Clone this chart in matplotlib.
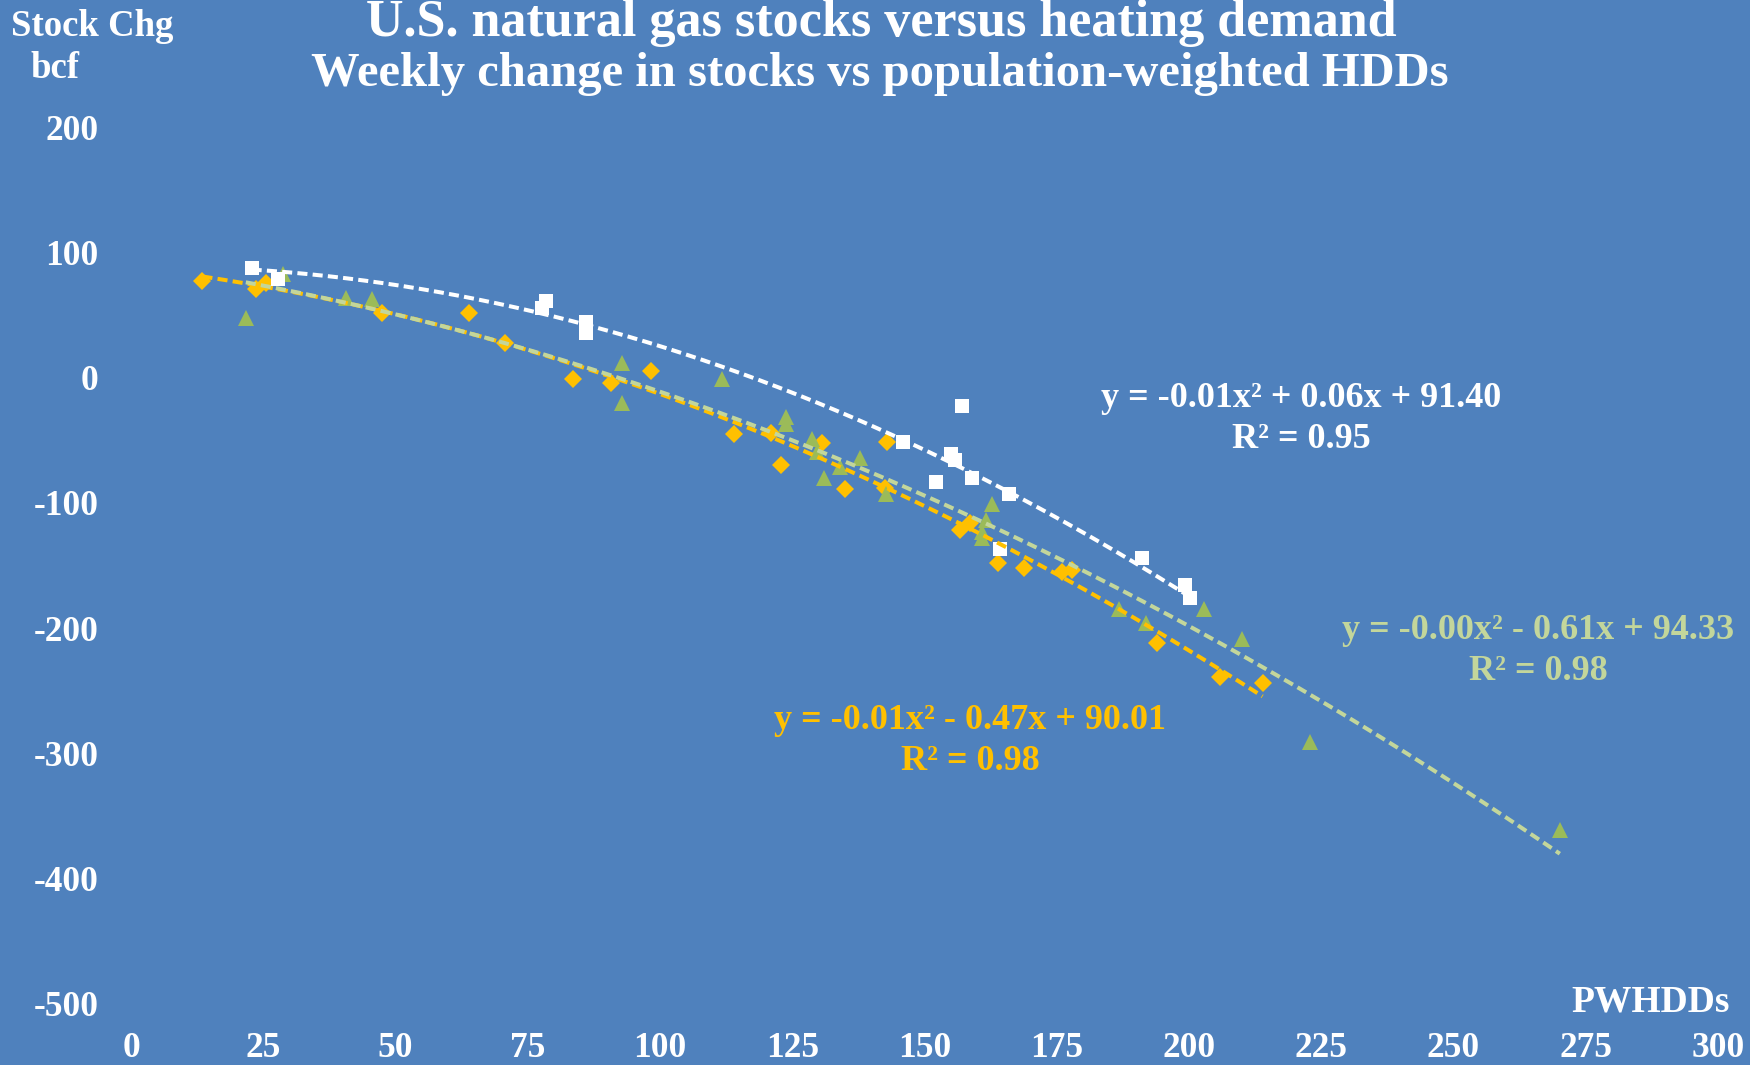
import numpy as np
import matplotlib
matplotlib.use("Agg")
import matplotlib.pyplot as plt

# ---------------- data ----------------
white_x = [22.8, 27.7, 78.4, 77.6, 86.0, 86.0, 146.0, 157.0, 155.1, 155.8,
           152.1, 158.9, 166.0, 164.3, 191.1, 199.2, 200.2]
white_y = [87.2, 78.5, 61.4, 55.3, 44.1, 35.8, -51.6, -22.7, -61.0, -65.8,
           -83.6, -80.4, -92.9, -136.8, -144.3, -165.5, -176.2]

orange_x = [13.5, 23.6, 25.6, 47.5, 63.8, 70.7, 83.6, 90.7, 98.3, 113.9,
            120.9, 122.8, 130.7, 135.0, 142.9, 142.6, 156.7, 158.6, 163.9,
            168.9, 175.9, 177.8, 193.9, 205.9, 213.9]
orange_y = [77.1, 70.7, 75.7, 51.3, 51.3, 27.4, -1.1, -4.6, 5.5, -45.3,
            -44.5, -69.8, -52.5, -89.2, -51.1, -88.4, -121.6, -116.3, -148.2,
            -152.2, -154.9, -153.6, -211.6, -238.7, -244.0]

green_x = [21.7, 28.7, 40.6, 45.5, 92.8, 92.8, 111.7, 123.8, 123.8, 128.7,
           129.6, 131.0, 134.0, 137.8, 142.7, 162.7, 161.7, 160.8, 160.8,
           186.8, 191.8, 202.8, 210.0, 222.9, 270.1]
green_y = [47.3, 83.0, 63.3, 62.7, 11.4, -20.0, -1.1, -31.2, -37.0, -49.3,
           -59.1, -80.4, -71.1, -64.4, -93.0, -101.1, -113.7, -123.0, -128.3,
           -185.0, -196.1, -185.0, -208.9, -290.6, -361.0]

eq_white = "y = -0.01x² + 0.06x + 91.40\nR² = 0.95"
eq_green = "y = -0.00x² - 0.61x + 94.33\nR² = 0.98"
eq_orange = "y = -0.01x² - 0.47x + 90.01\nR² = 0.98"

x_ticks = [0, 25, 50, 75, 100, 125, 150, 175, 200, 225, 250, 275, 300]
y_ticks = [200, 100, 0, -100, -200, -300, -400, -500]

title1 = "U.S. natural gas stocks versus heating demand"
title2 = "Weekly change in stocks vs population-weighted HDDs"

# ---------------- style ----------------
BG = "#4F81BD"
WHITE = "#FFFFFF"
ORANGE = "#FFC000"
GREEN = "#9BBB59"
LGREEN = "#C3D69B"
FONT = ["Liberation Serif", "DejaVu Serif"]
plt.rcParams["font.family"] = FONT

W, H = 1750, 1065
fig = plt.figure(figsize=(W / 100, H / 100), dpi=100, facecolor=BG)
ax = fig.add_axes([131 / W, 1 - 1004 / H, (1718 - 131) / W, (1004 - 127) / H])
ax.set_facecolor(BG)
ax.set_xlim(0, 300)
ax.set_ylim(-500, 200)
for s in ax.spines.values():
    s.set_visible(False)
ax.set_xticks(x_ticks)
ax.set_yticks(y_ticks)
ax.set_xticklabels([str(t) for t in x_ticks])
ax.set_yticklabels([str(t) for t in y_ticks])
ax.tick_params(axis="both", length=0, colors=WHITE, labelsize=25.5)
ax.tick_params(axis="y", pad=23.5)
ax.tick_params(axis="x", pad=20.5)
for lab in ax.get_xticklabels() + ax.get_yticklabels():
    lab.set_fontweight("bold")

# markers
ax.plot(orange_x, orange_y, linestyle="none", marker="D", markersize=8.8,
        color=ORANGE, markeredgewidth=0, zorder=3)
ax.plot(green_x, green_y, linestyle="none", marker="^", markersize=11.2,
        color=GREEN, markeredgewidth=0, zorder=3)
ax.plot(white_x, white_y, linestyle="none", marker="s", markersize=9.8,
        color=WHITE, markeredgewidth=0, zorder=3)

# polynomial trendlines (order 2) fitted to each series
def trend(xs, ys, color):
    xs = np.asarray(xs)
    ys = np.asarray(ys)
    c = np.polyfit(xs, ys, 2)
    xx = np.linspace(xs.min(), xs.max(), 300)
    ax.plot(xx, np.polyval(c, xx), color=color, linewidth=2.9,
            dashes=(2.5, 1.3), zorder=4, dash_capstyle="butt")

trend(orange_x, orange_y, ORANGE)
trend(green_x, green_y, LGREEN)
trend(white_x, white_y, WHITE)

# equations
def ftxt(x, y, s, color):
    fig.text(x / W, 1 - y / H, s, color=color, fontsize=26, fontweight="bold",
             ha="center", va="center", linespacing=1.3)

ftxt(1301, 419, eq_white, WHITE)
ftxt(1538, 651, eq_green, LGREEN)
ftxt(970, 741, eq_orange, ORANGE)

# titles
fig.text(881 / W, 1 - 36 / H, title1, color=WHITE, fontsize=37.5,
         fontweight="bold", ha="center", va="baseline")
fig.text(880 / W, 1 - 86 / H, title2, color=WHITE, fontsize=35,
         fontweight="bold", ha="center", va="baseline")

# axis titles
fig.text(11 / W, 1 - 36 / H, "Stock Chg", color=WHITE, fontsize=26.5,
         fontweight="bold", ha="left", va="baseline")
fig.text(30 / W, 1 - 78 / H, "bcf", color=WHITE, fontsize=26.5,
         fontweight="bold", ha="left", va="baseline")
fig.text(1730 / W, 1 - 1012 / H, "PWHDDs", color=WHITE, fontsize=27,
         fontweight="bold", ha="right", va="baseline")

fig.savefig("out.png", dpi=100, facecolor=BG)
